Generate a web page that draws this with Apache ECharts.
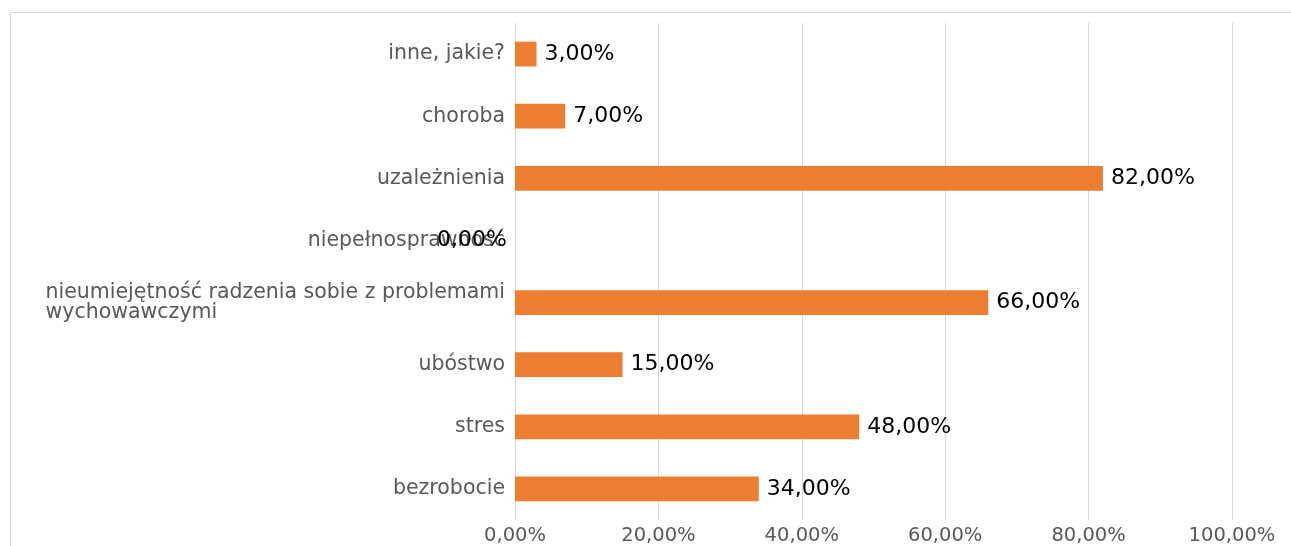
<!DOCTYPE html>
<html>
<head>
<meta charset="utf-8">
<script src="https://cdn.jsdelivr.net/npm/echarts@6/dist/echarts.min.js"></script>
<style>
html,body{margin:0;padding:0;background:#fff;}
#chart{width:1291px;height:546px;}
</style>
</head>
<body>
<div id="chart"></div>
<script>
// categories bottom to top
var categories = ['bezrobocie', 'stres', 'ubóstwo', 'nieumiejętność radzenia sobie z problemami\nwychowawczymi', 'niepełnosprawność', 'uzależnienia', 'choroba', 'inne, jakie?'];
var values = [34, 48, 15, 66, 0, 82, 7, 3];
var tickValues = [0, 20, 40, 60, 80, 100];

function pct(v) { return v.toFixed(2).replace('.', ',') + '%'; }

var FONT = 'DejaVu Sans';
var chart = echarts.init(document.getElementById('chart'), null, {renderer: 'canvas'});

var seriesData = values.map(function (v) {
  var item = {value: v};
  if (v === 0) {
    item.label = {position: 'left'};
  }
  return item;
});

chart.setOption({
  backgroundColor: '#ffffff',
  animation: false,
  graphic: [{
    type: 'rect',
    shape: {x: 10.5, y: 12.5, width: 1400, height: 700},
    style: {fill: 'none', stroke: '#d9d9d9', lineWidth: 1},
    silent: true,
    z: -10
  }],
  grid: {left: 515, top: 23, width: 717, height: 497, containLabel: false},
  xAxis: {
    type: 'value',
    min: 0, max: 100, interval: 20,
    axisLine: {show: false},
    axisTick: {show: false},
    splitLine: {show: true, lineStyle: {color: '#d9d9d9', width: 1}},
    axisLabel: {
      color: '#595959', fontFamily: FONT, fontSize: 19.5, margin: 6,
      formatter: function (v) { return tickValues.indexOf(v) >= 0 ? pct(v) : ''; }
    }
  },
  yAxis: {
    type: 'category',
    data: categories,
    axisLine: {show: false},
    axisTick: {show: false},
    splitLine: {show: false},
    axisLabel: {
      color: '#595959', fontFamily: FONT, fontSize: 20.5, margin: 10,
      lineHeight: 20,
      formatter: function (v) {
        if (v.indexOf('\n') >= 0) {
          return v.split('\n').map(function (s) { return '{l|' + s + '}'; }).join('\n');
        }
        return v;
      },
      rich: {
        l: {align: 'left', color: '#595959', fontFamily: FONT, fontSize: 20.5, lineHeight: 20}
      }
    }
  },
  series: [{
    type: 'bar',
    data: seriesData,
    barWidth: '40%',
    itemStyle: {color: '#ED7D31'},
    label: {
      show: true,
      position: 'right',
      distance: 8,
      color: '#000000',
      fontFamily: FONT,
      fontSize: 22,
      formatter: function (p) { return pct(p.value); }
    }
  }]
});
</script>
</body>
</html>
